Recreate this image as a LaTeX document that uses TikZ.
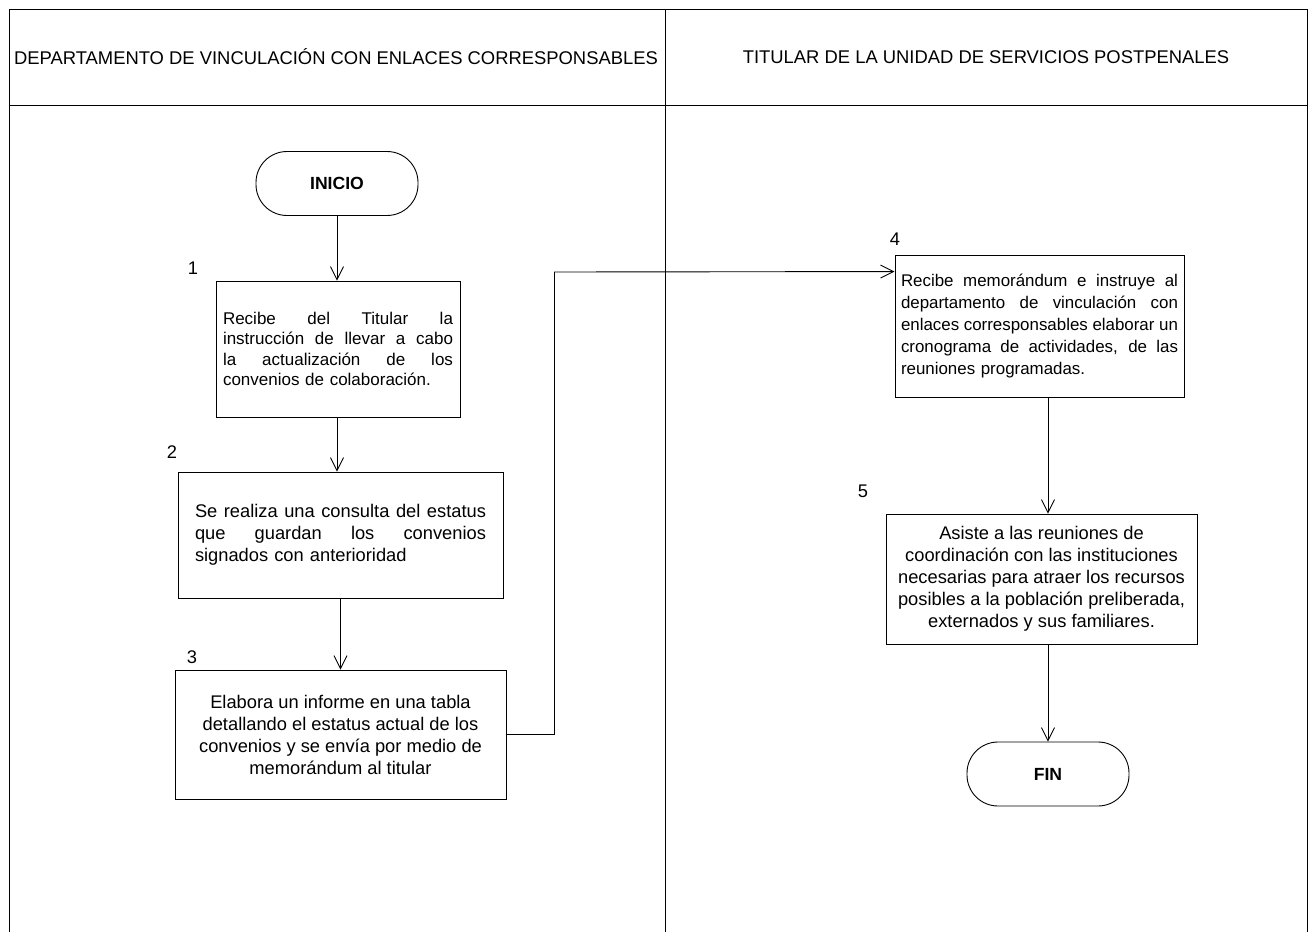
\documentclass[tikz,border=0pt]{standalone}
\usepackage{fontspec}
\setmainfont{Liberation Sans}
\usetikzlibrary{arrows.meta}
% one justified line of a given width (normal, stretchable interword spaces)
\newcommand{\jline}[2]{\makebox[#1][s]{\spaceskip=0pt\xspaceskip=0pt #2}}
\begin{document}
\begin{tikzpicture}[x=1pt,y=-1pt,
  lane/.style={draw=black, line width=0.9pt},
  title/.style={font=\fontsize{18.4}{22}\selectfont},
  num/.style={font=\fontsize{18.3}{22}\selectfont, inner sep=0pt},
  stepbox/.style={draw=black, line width=0.9pt, inner sep=0pt},
  bigtext/.style={font=\fontsize{18.3}{22}\selectfont},
  term/.style={draw=black, line width=0.9pt, rounded corners=31pt,
    minimum width=162pt, minimum height=64pt, inner sep=0pt,
    font=\fontsize{17.6}{22}\selectfont\bfseries},
  arr/.style={draw=black, line width=0.9pt,
    -{Straight Barb[length=13pt,width=13pt,line width=0.9pt]}}
]
\useasboundingbox (0,0) rectangle (1312,932);

% swimlane frame
\draw[lane] (9,932) -- (9,9) -- (1307,9) -- (1307,932);
\draw[lane] (9,105) -- (1307,105);
\draw[lane] (665,9) -- (665,932);

\node[title] (laneA) at (336,57) {DEPARTAMENTO DE VINCULACIÓN CON ENLACES CORRESPONSABLES};
\node[title] (laneB) at (986,57) {TITULAR DE LA UNIDAD DE SERVICIOS POSTPENALES};

% left lane
\node[term] (inicio) at (337,183.5) {INICIO};

\node[stepbox, font=\fontsize{17}{20.5}\selectfont, minimum width=244pt,
  minimum height=136pt, text width=230pt, align=left] (s1) at (338,349)
  {\jline{230pt}{Recibe del Titular la}\\
   \jline{230pt}{instrucción de llevar a cabo}\\
   \jline{230pt}{la actualización de los}\\
   convenios de colaboración.};

\node[stepbox, bigtext, minimum width=325pt, minimum height=126pt,
  text width=291pt, align=left] (s2) at (340.5,535)
  {\jline{291pt}{Se realiza una consulta del estatus}\\
   \jline{291pt}{que guardan los convenios}\\
   signados con anterioridad};

\node[stepbox, bigtext, minimum width=331pt, minimum height=129pt,
  align=center] (s3) at (340.5,734.5)
  {Elabora un informe en una tabla\\
   detallando el estatus actual de los\\
   convenios y se envía por medio de\\
   memorándum al titular};

% right lane
\node[stepbox, font=\fontsize{16.9}{22}\selectfont, minimum width=289pt,
  minimum height=142pt, text width=277pt, align=left] (s4) at (1039.5,326)
  {\jline{277pt}{Recibe memorándum e instruye al}\\
   \jline{277pt}{departamento de vinculación con}\\
   \jline{277pt}{enlaces corresponsables elaborar un}\\
   \jline{277pt}{cronograma de actividades, de las}\\
   reuniones programadas.};

\node[stepbox, bigtext, minimum width=311pt, minimum height=130pt,
  align=center] (s5) at (1041.5,579)
  {Asiste a las reuniones de\\
   coordinación con las instituciones\\
   necesarias para atraer los recursos\\
   posibles a la población preliberada,\\
   externados y sus familiares.};

\node[term] (fin) at (1048,774) {FIN};

% step numbers
\node[num] (n1) at (193,268) {1};
\node[num] (n2) at (172,452) {2};
\node[num] (n3) at (192,657) {3};
\node[num] (n4) at (895,239) {4};
\node[num] (n5) at (863,491) {5};

% connectors
\coordinate (bend) at (554.5,272);
\coordinate (in4) at ([yshift=-17pt]s4.north west);

\draw[arr] (inicio) -- (s1.north -| inicio);
\draw[arr] (s1.south -| inicio) -- (s2.north -| inicio);
\draw[arr] (s2) -- (s3);
\draw[arr] (s3.east) -| (bend) -- (in4);
\draw[arr] (s4.south -| fin) -- (s5.north -| fin);
\draw[arr] (s5.south -| fin) -- (fin);
\end{tikzpicture}
\end{document}
